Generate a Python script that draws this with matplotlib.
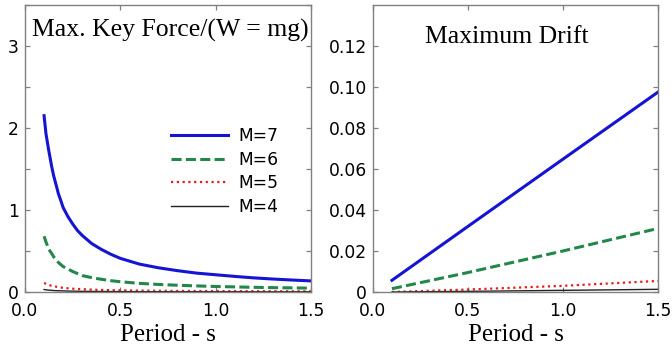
import matplotlib
matplotlib.use("Agg")
import matplotlib.pyplot as plt
from matplotlib.ticker import MultipleLocator, FixedLocator, FixedFormatter

# ── data ────────────────────────────────────────────────────────────────────
MAGNITUDES = ["M=7", "M=6", "M=5", "M=4"]

PERIOD_FORCE = [0.10, 0.11, 0.125, 0.14, 0.15, 0.165, 0.175, 0.19, 0.20, 0.225,
                0.25, 0.275, 0.30, 0.35, 0.40, 0.45, 0.50, 0.60, 0.70, 0.80,
                0.90, 1.00, 1.10, 1.20, 1.30, 1.40, 1.50]
FORCE_M7 = [2.15, 1.93, 1.72, 1.53, 1.42, 1.29, 1.20, 1.10, 1.03, 0.92,
            0.83, 0.75, 0.69, 0.59, 0.52, 0.46, 0.41, 0.34, 0.295, 0.26,
            0.23, 0.21, 0.19, 0.172, 0.158, 0.146, 0.135]
FORCE_M6 = [0.68, 0.61, 0.52, 0.47, 0.43, 0.39, 0.36, 0.33, 0.31, 0.28,
            0.25, 0.225, 0.20, 0.175, 0.155, 0.138, 0.125, 0.105, 0.092, 0.082,
            0.074, 0.067, 0.062, 0.057, 0.053, 0.050, 0.047]
FORCE_M5 = [0.11, 0.10, 0.085, 0.075, 0.070, 0.064, 0.060, 0.054, 0.050, 0.045,
            0.040, 0.037, 0.034, 0.029, 0.025, 0.022, 0.020, 0.017, 0.015, 0.013,
            0.012, 0.011, 0.010, 0.0095, 0.009, 0.0085, 0.008]
FORCE_M4 = [0.030, 0.027, 0.022, 0.020, 0.018, 0.016, 0.015, 0.014, 0.013, 0.011,
            0.010, 0.009, 0.008, 0.007, 0.006, 0.0055, 0.005, 0.004, 0.0035, 0.003,
            0.003, 0.0025, 0.0025, 0.002, 0.002, 0.002, 0.002]

PERIOD_DRIFT = [0.10, 0.50, 1.00, 1.50]
DRIFT_M7 = [0.0057, 0.0320, 0.0648, 0.0975]
DRIFT_M6 = [0.0016, 0.0095, 0.0200, 0.0310]
DRIFT_M5 = [0.0000, 0.0012, 0.0030, 0.0054]
DRIFT_M4 = [0.0000, 0.0003, 0.0008, 0.0013]

X_TICKS = [0.0, 0.5, 1.0, 1.5]
X_TICK_LABELS = ["0.0", "0.5", "1.0", "1.5"]
FORCE_Y_TICKS = [0, 1, 2, 3]
FORCE_Y_LABELS = ["0", "1", "2", "3"]
DRIFT_Y_TICKS = [0, 0.02, 0.04, 0.06, 0.08, 0.10, 0.12]
DRIFT_Y_LABELS = ["0", "0.02", "0.04", "0.06", "0.08", "0.10", "0.12"]

# ── styles ───────────────────────────────────────────────────────────────────
STYLES = [
    dict(color="#1414d2", lw=2.2, ls="-"),
    dict(color="#23874a", lw=2.2, ls=(0, (3.3, 1.4))),
    dict(color="#ee1a1a", lw=1.6, ls=(0, (1.0, 1.6))),
    dict(color="#222222", lw=1.0, ls="-"),
]
SERIF = "Liberation Serif"
SANS = "DejaVu Sans"
SPINE = "#808080"


def style_axes(ax):
    for sp in ax.spines.values():
        sp.set_color(SPINE)
        sp.set_linewidth(1.0)
    ax.tick_params(which="both", direction="in", top=True, right=True,
                   length=3.5, width=0.9, color=SPINE, labelsize=12.3)
    ax.tick_params(axis="y", pad=4.5)
    ax.tick_params(axis="x", pad=7)
    for lbl in ax.get_xticklabels() + ax.get_yticklabels():
        lbl.set_fontfamily(SANS)
    ax.set_xlim(0, 1.5)
    ax.set_xlabel("Period - s", fontsize=18, family=SERIF, labelpad=3)


fig = plt.figure(figsize=(6.72, 3.52), dpi=100)
ax1 = fig.add_axes([0.0372, 0.1705, 0.4256, 0.8153])
ax2 = fig.add_axes([0.5550, 0.1705, 0.4241, 0.8153])

# left — key force
for y, lab, st in zip([FORCE_M7, FORCE_M6, FORCE_M5, FORCE_M4], MAGNITUDES, STYLES):
    ax1.plot(PERIOD_FORCE, y, label=lab, **st)
ax1.set_ylim(0, 3.5)
ax1.xaxis.set_major_locator(FixedLocator(X_TICKS))
ax1.xaxis.set_major_formatter(FixedFormatter(X_TICK_LABELS))
ax1.yaxis.set_major_locator(FixedLocator(FORCE_Y_TICKS))
ax1.yaxis.set_major_formatter(FixedFormatter(FORCE_Y_LABELS))
ax1.yaxis.set_minor_locator(MultipleLocator(0.5))
style_axes(ax1)
ax1.text(0.507, 0.889, "Max. Key Force/(W = mg)", transform=ax1.transAxes,
         ha="center", va="baseline", fontsize=18.5, family=SERIF)
leg = ax1.legend(loc="center", bbox_to_anchor=(0.698, 0.42), frameon=False,
                 prop={"family": SANS, "size": 12.3}, handlelength=3.35,
                 handletextpad=0.55, labelspacing=0.32, borderpad=0,
                 borderaxespad=0)

# right — drift
for y, lab, st in zip([DRIFT_M7, DRIFT_M6, DRIFT_M5, DRIFT_M4], MAGNITUDES, STYLES):
    ax2.plot(PERIOD_DRIFT, y, label=lab, **st)
ax2.set_ylim(0, 0.14)
ax2.xaxis.set_major_locator(FixedLocator(X_TICKS))
ax2.xaxis.set_major_formatter(FixedFormatter(X_TICK_LABELS))
ax2.yaxis.set_major_locator(FixedLocator(DRIFT_Y_TICKS))
ax2.yaxis.set_major_formatter(FixedFormatter(DRIFT_Y_LABELS))
style_axes(ax2)
ax2.text(0.47, 0.867, "Maximum Drift", transform=ax2.transAxes,
         ha="center", va="baseline", fontsize=18.5, family=SERIF)

fig.savefig("out.png", dpi=100)
